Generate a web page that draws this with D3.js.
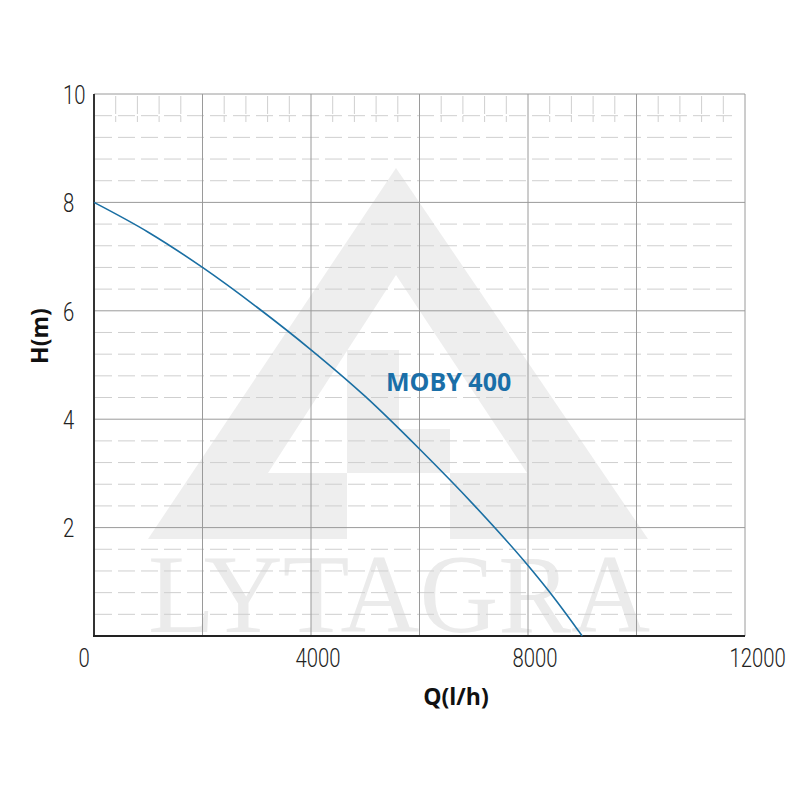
<!DOCTYPE html>
<html>
<head>
<meta charset="utf-8">
<script src="https://cdn.jsdelivr.net/npm/d3@7"></script>
<style>
  html, body { margin: 0; padding: 0; background: #fff; }
  svg { display: block; }
</style>
</head>
<body>
<svg id="chart" width="800" height="800"></svg>
<script>
// ---- data ----
const flowQ = [0, 1000, 2000, 3000, 4000, 5000, 6000, 7000, 8000, 8500, 9000];
const headH = [8.0, 7.45, 6.8, 6.07, 5.28, 4.42, 3.45, 2.42, 1.3, 0.68, 0.0];
const seriesName = "MOBY 400";
const xTickLabels = [0, 4000, 8000, 12000];
const yTickLabels = [2, 4, 6, 8, 10];
const xMajor = [0, 2000, 4000, 6000, 8000, 10000, 12000];
const yMajor = [0, 2, 4, 6, 8, 10];
const yMinor = d3.range(0.4, 10, 0.4).filter(v => Math.abs(v / 2 - Math.round(v / 2)) > 1e-6);
const xMinor = d3.range(400, 12000, 400).filter(v => v % 2000 !== 0);
const xTitle = "Q(l/h)";
const yTitle = "H(m)";
const watermark = "LYTAGRA";

const svg = d3.select("#chart");
const L = 94, R = 745, T = 94, B = 636;
const x = d3.scaleLinear().domain([0, 12000]).range([L, R]);
const y = d3.scaleLinear().domain([0, 10]).range([B, T]);

// ---- watermark logo ----
const wm = svg.append("g");
const gray = "#eeeeee";
wm.append("path").attr("d", "M396,168 L648,539 L148,539 Z").attr("fill", gray);
wm.append("path").attr("d", "M396,275 L527,473 L268,473 Z").attr("fill", "#fff");
wm.append("rect").attr("x", 347).attr("y", 350).attr("width", 52).attr("height", 123).attr("fill", gray);
wm.append("rect").attr("x", 347).attr("y", 429).attr("width", 103).attr("height", 44).attr("fill", gray);
wm.append("rect").attr("x", 347).attr("y", 473).attr("width", 103).attr("height", 66).attr("fill", "#fff");
wm.append("text").attr("x", 148).attr("y", 632)
  .attr("textLength", 502).attr("lengthAdjust", "spacingAndGlyphs")
  .style("font-family", "'Liberation Serif', 'DejaVu Serif', serif")
  .style("font-size", "112px").attr("fill", "#ebebeb").text(watermark);

// ---- grid ----
const grid = svg.append("g");
grid.selectAll(".hmin").data(yMinor).join("line")
  .attr("x1", L + 1).attr("x2", 732).attr("y1", d => y(d)).attr("y2", d => y(d))
  .attr("stroke", "#cfcfcf").attr("stroke-width", 1).attr("stroke-dasharray", "17,6");
grid.selectAll(".vmin").data(xMinor).join("line")
  .attr("x1", d => x(d)).attr("x2", d => x(d)).attr("y1", T + 2).attr("y2", T + 28)
  .attr("stroke", "#cfcfcf").attr("stroke-width", 1).attr("stroke-dasharray", "18,2,8,200");
grid.selectAll(".hmaj").data(yMajor).join("line")
  .attr("x1", L).attr("x2", R).attr("y1", d => y(d)).attr("y2", d => y(d))
  .attr("stroke", "#9a9a9a").attr("stroke-width", 1);
grid.selectAll(".vmaj").data(xMajor).join("line")
  .attr("x1", d => x(d)).attr("x2", d => x(d)).attr("y1", T).attr("y2", B)
  .attr("stroke", "#9a9a9a").attr("stroke-width", 1);

// ---- axes lines ----
svg.append("line").attr("x1", L).attr("x2", L).attr("y1", T).attr("y2", B + 1)
  .attr("stroke", "#333").attr("stroke-width", 2);
svg.append("line").attr("x1", L - 1).attr("x2", R).attr("y1", B).attr("y2", B)
  .attr("stroke", "#222").attr("stroke-width", 2);

// ---- tick labels via d3 axes (thin, condensed) ----
const tickFont = "Roboto, 'DejaVu Sans', sans-serif";
const sx = 0.78;
const yAxis = svg.append("g").attr("transform", `translate(${L},0)`)
  .call(d3.axisLeft(y).tickValues(yTickLabels).tickSize(0).tickFormat(d3.format("d")));
yAxis.select(".domain").remove();
yAxis.selectAll("text").attr("x", 0).attr("dy", "0.36em").attr("text-anchor", "start")
  .attr("transform", `translate(-31,0) scale(${sx},1)`)
  .style("font-family", tickFont).style("font-weight", "300").style("font-size", "26px")
  .attr("fill", "#222");

const xAxis = svg.append("g").attr("transform", `translate(0,${B})`)
  .call(d3.axisBottom(x).tickValues(xTickLabels).tickSize(0).tickFormat(d3.format("d")));
xAxis.select(".domain").remove();
xAxis.selectAll("text").attr("x", 0).attr("y", 0).attr("dy", "0.36em").attr("text-anchor", "start")
  .attr("transform", `translate(-16,22) scale(${sx},1)`)
  .style("font-family", tickFont).style("font-weight", "300").style("font-size", "26px")
  .attr("fill", "#222");

// ---- curve ----
const pts = flowQ.map((q, i) => [q, headH[i]]);
svg.append("path").datum(pts)
  .attr("d", d3.line().x(d => x(d[0])).y(d => y(d[1])).curve(d3.curveMonotoneX))
  .attr("fill", "none").attr("stroke", "#1a6fa3").attr("stroke-width", 1.6);

svg.append("text").attr("x", 386).attr("y", 391)
  .style("font-family", "'Open Sans', sans-serif").style("font-weight", "bold").style("font-size", "25px")
  .attr("fill", "#1a6fa8").text(seriesName);

// ---- axis titles ----
svg.append("text").attr("x", 456).attr("y", 705).attr("text-anchor", "middle")
  .style("font-family", "'Open Sans', sans-serif").style("font-weight", "bold").style("font-size", "23px")
  .attr("fill", "#111").text(xTitle);
svg.append("text").attr("transform", "translate(48,336) rotate(-90)").attr("text-anchor", "middle")
  .style("font-family", "'Open Sans', sans-serif").style("font-weight", "bold").style("font-size", "23px")
  .attr("fill", "#111").text(yTitle);
</script>
</body>
</html>
